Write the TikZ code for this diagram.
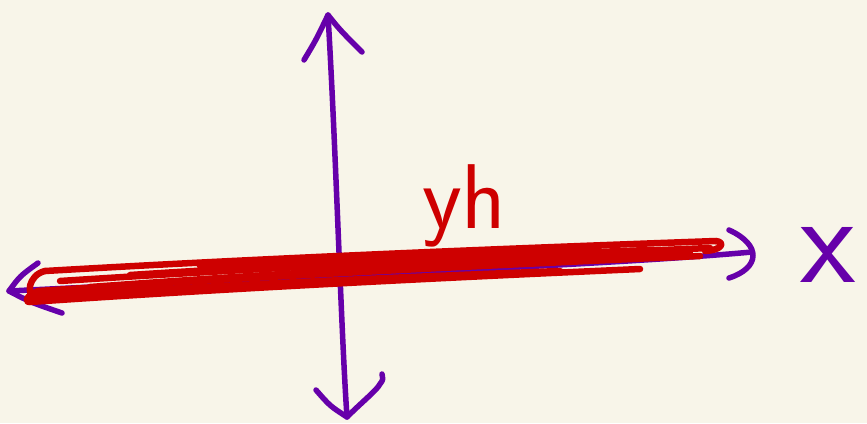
\documentclass[tikz,border=0pt]{standalone}
\usepackage{fontspec}
\usepackage{tikz}
\definecolor{SketchBg}{RGB}{248,245,233}
\definecolor{SketchPurple}{RGB}{102,0,170}
\definecolor{SketchRed}{RGB}{206,0,0}

\begin{document}
\begin{tikzpicture}[x=1pt,y=-1pt,line cap=round,line join=round,
  axis/.style={SketchPurple,line width=5.5pt},
  scribble/.style={SketchRed,line width=6.5pt},
  handtext/.style={inner sep=0pt,font=\sffamily\fontsize{#1}{#1}\selectfont}]
\fill[SketchBg] (0,0) rectangle (867,423);
\useasboundingbox (0,0) rectangle (867,423);
\coordinate (ytop) at (328,15);
\coordinate (ybot) at (347,417);
\coordinate (xleft) at (9,291);
\coordinate (xright) at (752,252);
\draw[axis] (ybot) .. controls (341,330) and (336,150) .. (ytop);
\draw[axis] (304,60) .. controls (316,40) .. (ytop) .. controls (340,30) .. (362,52);
\draw[axis] (316,390) .. controls (330,406) .. (ybot) .. controls (362,402) and (377,390) .. (380,384) .. controls (383,380) .. (382,374);
\draw[axis] (xleft) .. controls (250,279) and (600,266) .. (xright);
\draw[axis] (38,263) .. controls (20,276) .. (xleft) .. controls (30,302) .. (62,313);
\draw[axis] (729,230) .. controls (762,245) and (760,268) .. (729,278);
\foreach \xl/\yl/\xr/\yr in %
{45/271/716/241,30/302/640/269,38/291/700/256,60/281/710/248,%
35/297/560/271,130/275/650/250,200/266/600/251,90/287/690/252} {
   \draw[scribble] (\xl,\yl) .. controls ({\xl+(\xr-\xl)/3},{\yl+(\yr-\yl)/3-3}) and ({\xl+2*(\xr-\xl)/3},{\yl+2*(\yr-\yl)/3-2}) .. (\xr,\yr);
}
\draw[scribble] (716,241) .. controls (725,242) and (723,250) .. (705,251);
\draw[scribble] (45,271) .. controls (28,275) and (26,296) .. (35,297);
\draw[scribble] (38,291) .. controls (26,296) and (24,302) .. (30,302);
\node[handtext=92,text=SketchRed,anchor=base west] (yh) at (422,228) {yh};
\node[handtext=128,text=SketchPurple,anchor=base west] (xlabel) at (800,282) {x};
\end{tikzpicture}
\end{document}
